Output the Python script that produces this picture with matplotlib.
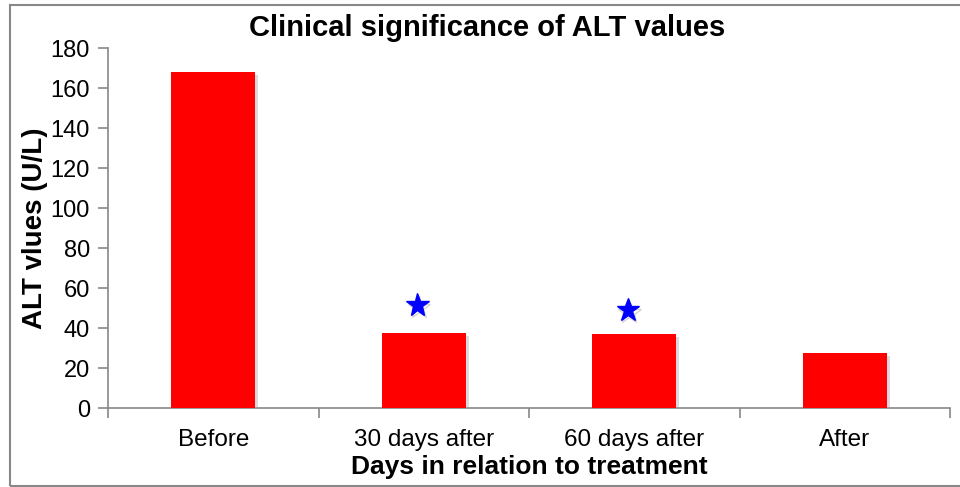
import numpy as np
import matplotlib.pyplot as plt
import matplotlib.patheffects as pe
from matplotlib.patches import Rectangle

plt.rcParams['font.family'] = ['Liberation Sans', 'DejaVu Sans']

categories = ['Before', '30 days after', '60 days after', 'After']
alt_values = [168, 37.5, 37, 27.5]
star_cats = [1, 2]
star_values = [51.5, 49]

fig = plt.figure(figsize=(9.6, 4.87), dpi=100)
ax = fig.add_axes([0.1125, 0.1622, 0.8771, 0.7392])

x = np.arange(len(categories))
shadow = [pe.SimplePatchShadow(offset=(2, -2), shadow_rgbFace='#999999', alpha=0.35), pe.Normal()]
bars = ax.bar(x, alt_values, width=0.4, color='#ff0000', edgecolor='none', zorder=3)
for b in bars:
    b.set_path_effects(shadow)

ax.plot(np.array(star_cats) - 0.03, star_values, linestyle='none', marker='*',
        markersize=17, color='#0000ff', zorder=4,
        path_effects=[pe.SimpleLineShadow(offset=(1, -2), shadow_color='#999999', alpha=0.4), pe.Normal()])

ax.set_xlim(-0.5, len(categories) - 0.5)
ax.set_ylim(0, 180)
ax.set_yticks(np.arange(0, 181, 20))
ax.set_xticks(x)
ax.set_xticklabels(categories)
ax.set_xticks(np.arange(-0.5, len(categories), 1), minor=True)
ax.tick_params(axis='x', which='major', length=0, pad=15, labelsize=17.5)
ax.tick_params(axis='x', which='minor', length=7, width=1.2, color='#888888', direction='out')
ax.tick_params(axis='y', length=7, width=1.2, color='#888888', direction='out', labelsize=17, pad=6)

for s in ['top', 'right']:
    ax.spines[s].set_visible(False)
for s in ['left', 'bottom']:
    ax.spines[s].set_color('#888888')
    ax.spines[s].set_linewidth(1.2)

fig.text(0.507, 1 - 28 / 487, 'Clinical significance of ALT values', fontsize=21,
         fontweight='bold', ha='center', va='center')
ax.set_ylabel('ALT vlues (U/L)', fontsize=20, fontweight='bold', labelpad=2)
ax.set_xlabel('Days in relation to treatment', fontsize=19, fontweight='bold', labelpad=3)

fig.patches.append(Rectangle((10 / 960, 1 / 487), 1.2, 1 - 6 / 487, transform=fig.transFigure,
                             fill=False, edgecolor='#888888', linewidth=1.5))

fig.savefig('out.png', dpi=100)
